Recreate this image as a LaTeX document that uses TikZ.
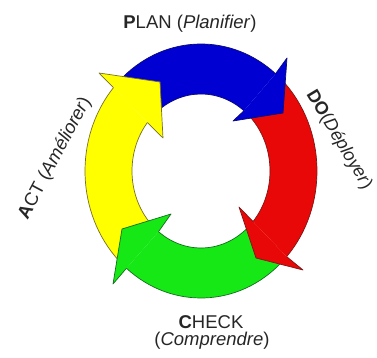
\documentclass[tikz,border=0pt]{standalone}
\usepackage{fontspec}
\setmainfont{Liberation Sans}
\begin{document}
\begin{tikzpicture}[x=1pt,y=1pt,
  lbl/.style={font=\fontsize{18.5}{21}\selectfont, text=black!85, inner sep=0pt},
  edge/.style={line width=0.7pt, line join=round}]
\definecolor{cblue}{RGB}{0,0,210}
\definecolor{cred}{RGB}{232,8,8}
\definecolor{cyel}{RGB}{255,255,0}
\definecolor{cgrn}{RGB}{22,232,22}
\definecolor{eblue}{RGB}{10,10,120}
\definecolor{ered}{RGB}{130,20,20}
\definecolor{eyel}{RGB}{120,110,40}
\definecolor{egrn}{RGB}{20,110,30}
\useasboundingbox (0,0) rectangle (377,358);

% ring bodies: outer ellipse 116x127, inner ellipse 69x77
\newcommand{\ringbody}[7]{% fill, edge, tail, outer notch, inner notch, name out, name in
  \path[fill=#1] (#3:116pt and 127pt)
     arc[start angle=#3, end angle=#4, x radius=116pt, y radius=127pt] coordinate (#6)
     -- (#5:69pt and 77pt) coordinate (#7)
     arc[start angle=#5, end angle=#3, x radius=69pt, y radius=77pt] -- cycle;
  \draw[edge,#2] (#3:116pt and 127pt)
     arc[start angle=#3, end angle=#4, x radius=116pt, y radius=127pt];
  \draw[edge,#2] (#5:69pt and 77pt)
     arc[start angle=#5, end angle=#3, x radius=69pt, y radius=77pt];
}
\newcommand{\ringhead}[5]{% fill, edge, out notch, in notch, barbs and tip
  \fill[#1] (#3) -- #5 -- (#4) -- cycle;
  \draw[edge,#2] (#3) -- #5 -- (#4);
}

\begin{scope}[shift={(201,187)}]
  \ringbody{cblue}{eblue}{132}{50}{51.5}{bo}{bi}
  \ringbody{cred}{ered}{45}{-42.4}{-41}{ro}{ri}
  \ringbody{cgrn}{egrn}{-46}{-130}{-128}{go}{gi}
  \ringbody{cyel}{eyel}{225}{139}{141}{yo}{yi}
\end{scope}

% arrow heads, each lying over the tail of the next arrow
\ringhead{cblue}{eblue}{bo}{bi}{(287,300) -- (283,245) -- (233,237)}
\ringhead{cred}{ered}{ro}{ri}{(303,88) -- (256,100) -- (239,151)}
\ringhead{cgrn}{egrn}{go}{gi}{(113,74) -- (122,129) -- (171,144)}
\ringhead{cyel}{eyel}{yo}{yi}{(99,285) -- (160,276) -- (163,220)}

% labels
\node[lbl] (plan) at (190,334.5) {\textbf{P}LAN (\textit{Planifier})};
\node[lbl, rotate=-59, font=\fontsize{18}{21}\selectfont] (do) at (339,218) {\textbf{DO}(\textit{Déployer})};
\node[lbl] (check) at (211,35.5) {\textbf{C}HECK};
\node[lbl] (comp) at (212,17) {(\textit{Comprendre})};
\node[lbl, rotate=62] (act) at (55,200) {\textbf{A}CT (\textit{Améliorer})};
\end{tikzpicture}
\end{document}
